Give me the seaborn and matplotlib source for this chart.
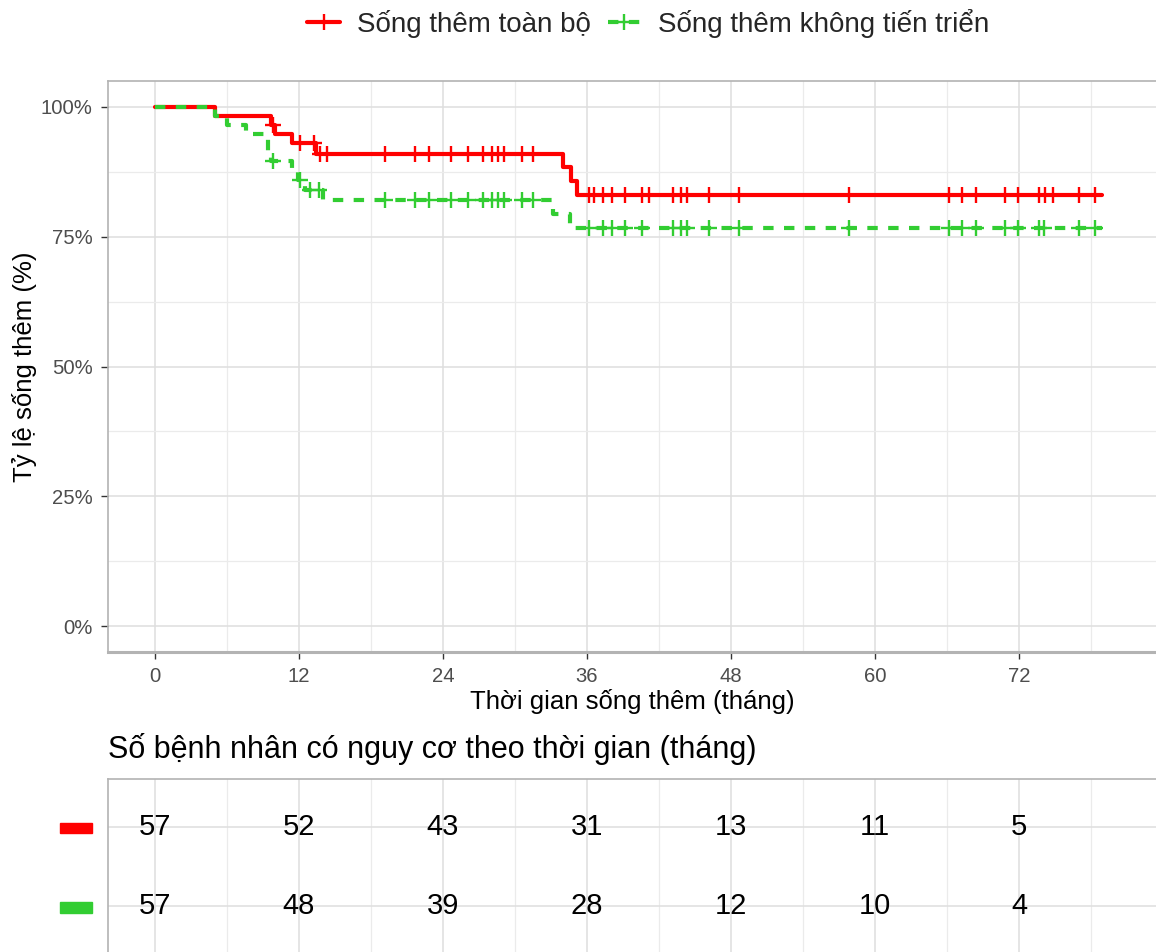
import numpy as np
import pandas as pd
import matplotlib
matplotlib.use('Agg')
import matplotlib.pyplot as plt
import matplotlib.transforms as mtransforms
from matplotlib.lines import Line2D
from matplotlib.patches import Rectangle
import seaborn as sns

# step curves (months, % surviving)
os_time = [0, 5.0, 9.65, 10.0, 11.4, 13.4, 34.0, 34.7, 35.2, 78.9]
os_surv = [100, 98.2, 96.5, 94.7, 93.0, 91.0, 88.4, 85.8, 83.1, 83.1]
os_censor = [9.8, 12.05, 13.25, 13.75, 14.3, 19.2, 21.7, 22.8, 24.7, 26.1, 27.3,
             28.1, 28.6, 29.1, 30.6, 31.5, 36.2, 36.6, 37.3, 38.1, 39.2, 40.6,
             41.2, 43.2, 43.8, 44.3, 46.2, 48.7, 57.8, 66.2, 67.25, 68.4, 70.8,
             71.9, 73.7, 74.2, 74.8, 77.0, 78.3]

pfs_time = [0, 5.0, 6.0, 7.6, 9.4, 9.65, 11.4, 11.95, 12.5, 14.0, 33.2, 34.6, 78.9]
pfs_surv = [100, 98.2, 96.5, 94.7, 91.2, 89.5, 87.7, 85.9, 84.0, 82.1, 79.4, 76.6, 76.6]
pfs_censor = [9.8, 12.05, 12.9, 13.65, 19.2, 21.7, 22.8, 24.7, 26.1, 27.3, 28.1,
              28.6, 29.1, 30.6, 31.5, 36.2, 37.3, 38.1, 39.2, 40.6, 43.2, 43.8,
              44.3, 46.2, 48.7, 57.8, 66.2, 67.25, 68.4, 70.8, 71.9, 73.7, 74.1,
              77.0, 78.3]

risk_times = [0, 12, 24, 36, 48, 60, 72]
os_risk = [57, 52, 43, 31, 13, 11, 5]
pfs_risk = [57, 48, 39, 28, 12, 10, 4]

labels = ['Sống thêm toàn bộ', 'Sống thêm không tiến triển']
colors = ['#FF0000', '#32CD32']

sns.set_theme(style='whitegrid')
plt.rcParams['font.family'] = ['Liberation Sans', 'DejaVu Sans']

W, H = 1156, 952
fig = plt.figure(figsize=(W / 100, H / 100), dpi=100)
ax = fig.add_axes([108 / W, 1 - 652 / H, 1048 / W, 571 / H])
tab = fig.add_axes([108 / W, 0, 1048 / W, 173 / H])

def step_value(times, surv, t):
    i = np.searchsorted(times, t, side='right') - 1
    return surv[i]

# curves
dash = (0, (2.5, 2.5))
series = [(os_time, os_surv, os_censor, '-'), (pfs_time, pfs_surv, pfs_censor, dash)]
for (t, s, cens, ls), col in zip(series, colors):
    sns.lineplot(x=t, y=s, ax=ax, color=col, linewidth=3.0, linestyle=ls,
                 drawstyle='steps-post', estimator=None, sort=False, zorder=3)
for (t, s, cens, ls), col in zip(series, colors):
    cy = [step_value(t, s, c) for c in cens]
    sns.scatterplot(x=cens, y=cy, ax=ax, marker='+', s=120, color=col,
                    linewidth=1.7, zorder=4)

xmajor = np.arange(0, 73, 12)
xminor = np.arange(6, 84, 12)
for a in (ax, tab):
    a.set_xlim(-3.917, 83.417)
    a.set_xticks(xmajor)
    a.set_xticks(xminor, minor=True)
    a.grid(which='major', color='#DEDEDE', linewidth=1.1)
    a.grid(which='minor', color='#EBEBEB', linewidth=0.9)
    a.set_facecolor('white')
    a.tick_params(which='minor', length=0)

ax.set_ylim(-5, 105)
ax.set_yticks([0, 25, 50, 75, 100])
ax.set_yticks([12.5, 37.5, 62.5, 87.5], minor=True)
ax.set_yticklabels([f'{v}%' for v in [0, 25, 50, 75, 100]])
ax.tick_params(axis='both', which='major', labelsize=14.6, labelcolor='#4D4D4D',
               color='#333333', length=5, width=1, direction='out', pad=6,
               bottom=True, left=True)
ax.set_xlabel('Thời gian sống thêm (tháng)', fontsize=18.5, color='black', labelpad=2)
ax.set_ylabel('Tỷ lệ sống thêm (%)', fontsize=18.5, color='black', labelpad=3)
for side in ['top', 'left']:
    ax.spines[side].set_color('#B3B3B3')
    ax.spines[side].set_linewidth(1.2)
ax.spines['bottom'].set_color('#B3B3B3')
ax.spines['bottom'].set_linewidth(2.2)
ax.spines['right'].set_visible(False)

# risk table
tab.set_ylim(0.42, 2.6)
tab.set_yticks([1, 2])
tab.set_yticklabels([])
tab.set_xticklabels([])
tab.tick_params(axis='both', which='both', length=0)
for side in ['top', 'left']:
    tab.spines[side].set_color('#B3B3B3')
    tab.spines[side].set_linewidth(1.2)
tab.spines['bottom'].set_visible(False)
tab.spines['right'].set_visible(False)
for row, vals in zip([2, 1], [os_risk, pfs_risk]):
    for t, v in zip(risk_times, vals):
        tab.text(t, row, str(v), ha='center', va='center', fontsize=21, color='black')

trans = mtransforms.blended_transform_factory(tab.transAxes, tab.transData)
for row, col in zip([2, 1], colors):
    tab.add_patch(Rectangle((-48 / 1048, row - 0.085), 32 / 1048, 0.135,
                            transform=trans, color=col, clip_on=False))

fig.text(108 / W, 1 - 749 / H, 'Số bệnh nhân có nguy cơ theo thời gian (tháng)',
         ha='left', va='center', fontsize=22, color='black')

# legend
handles = [Line2D([0], [0], color=colors[0], linewidth=3.0, marker='+',
                  markersize=11, markeredgewidth=1.7),
           Line2D([0], [0], color=colors[1], linewidth=3.0, linestyle=dash,
                  marker='+', markersize=11, markeredgewidth=1.7)]
fig.legend(handles, labels, loc='center', bbox_to_anchor=(648 / W, 1 - 23 / H),
           ncol=2, frameon=False, fontsize=20, handlelength=1.2,
           handletextpad=0.6, columnspacing=0.6)

fig.savefig('out.png', dpi=100)
